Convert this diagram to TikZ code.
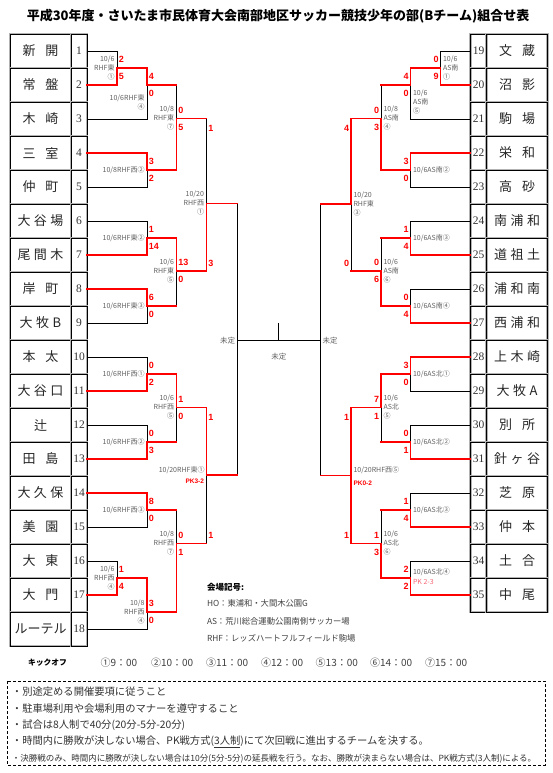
\documentclass[tikz,border=0pt]{standalone}
\usepackage{fontspec}
\usepackage{tikz}
\usetikzlibrary{positioning, calc}

\newfontfamily\jp{Noto Sans CJK JP}
\newfontfamily\numfont{Liberation Serif}
\newfontfamily\scorefont{Liberation Sans}
\newcommand{\two}[2]{#1\hspace{10pt}#2}
\newcommand{\three}[3]{#1\hspace{3.5pt}#2\hspace{3.5pt}#3}
\definecolor{infogray}{gray}{0.38}
\definecolor{pkpink}{RGB}{246,104,118}

\begin{document}
\begin{tikzpicture}[
  x=1pt, y=-1pt,
  every node/.style={inner sep=0pt, outer sep=0pt},
  cell/.style={draw, line width=0.9pt, preaction={draw=black!30, line width=2.4pt}, minimum height=34pt},
  team/.style={cell, minimum width=61pt, font=\jp\fontsize{13}{13}\selectfont, text=black!85},
  num/.style={cell, minimum width=16pt, font=\numfont\fontsize{11.5}{11.5}\selectfont, text=black!80},
  lose/.style={draw=black, line width=0.6pt},
  win/.style={draw=red, line width=1.6pt, line cap=rect},
  score/.style={text=red, font=\scorefont\bfseries\fontsize{9}{9}\selectfont},
  pk/.style={text=red, font=\scorefont\bfseries\fontsize{6.5}{7}\selectfont},
  info/.style={text=infogray, font=\jp\fontsize{7}{9}\selectfont},
  linfo/.style={info, anchor=east, align=right},
  rinfo/.style={info, anchor=west, align=left},
  note/.style={anchor=west, text=black!80, font=\jp\fontsize{10.3}{12}\selectfont},
  venue/.style={anchor=west, text=black!75, font=\jp\fontsize{8.3}{10}\selectfont}
]
\path[use as bounding box, fill=white] (0,0) rectangle (553,773);

% Title
\node[font=\jp\bfseries\fontsize{13}{13}\selectfont] (title) at (278,16)
  {平成30年度・さいたま市民体育大会南部地区サッカー競技少年の部(Bチーム)組合せ表};

% Left table: teams 1-18
\foreach \i/\nm in {1/{\two{新}{開}}, 2/{\two{常}{盤}}, 3/{\two{木}{崎}}, 4/{\two{三}{室}},
  5/{\two{仲}{町}}, 6/{\three{大}{谷}{場}}, 7/{\three{尾}{間}{木}}, 8/{\two{岸}{町}},
  9/{\three{大}{牧}{B}}, 10/{\two{本}{太}}, 11/{\three{大}{谷}{口}}, 12/辻,
  13/{\two{田}{島}}, 14/{\three{大}{久}{保}}, 15/{\two{美}{園}}, 16/{\two{大}{東}},
  17/{\two{大}{門}}, 18/ルーテル} {
  \node[team] (t\i) at (40.5, {51+34*(\i-1)}) {\nm};
  \node[num, right=0pt of t\i] (n\i) {\i};
}
% Right table: teams 19-35
\foreach \i/\nm in {19/{\two{文}{蔵}}, 20/{\two{沼}{影}}, 21/{\two{駒}{場}}, 22/{\two{栄}{和}},
  23/{\two{高}{砂}}, 24/{\three{南}{浦}{和}}, 25/{\three{道}{祖}{土}}, 26/{\three{浦}{和}{南}},
  27/{\three{西}{浦}{和}}, 28/{\three{上}{木}{崎}}, 29/{\three{大}{牧}{A}}, 30/{\two{別}{所}},
  31/{\three{針}{ヶ}{谷}}, 32/{\two{芝}{原}}, 33/{\two{仲}{本}}, 34/{\two{土}{合}},
  35/{\two{中}{尾}}} {
  \node[num] (n\i) at (478.5, {51+34*(\i-19)}) {\i};
  \node[team, right=0pt of n\i] (t\i) {\nm};
}

% Match points, left side
\coordinate (L1) at (117,68);
\coordinate (L2) at (147,85);
\coordinate (L3) at (147,170);
\coordinate (L4) at (176.5,118.5);
\coordinate (L5) at (147,238);
\coordinate (L6) at (147,306);
\coordinate (L7) at (176.5,271);
\coordinate (L8) at (206.5,203.5);
\coordinate (L9) at (147,374);
\coordinate (L10) at (147,442);
\coordinate (L11) at (176.5,407.5);
\coordinate (L12) at (147,510);
\coordinate (L13) at (117,578);
\coordinate (L14) at (147,612);
\coordinate (L15) at (176.5,543.5);
\coordinate (L16) at (206.5,475);
\coordinate (LS) at (237,340.5);
% Match points, right side
\coordinate (R1) at (440.5,68);
\coordinate (R2) at (410.5,85);
\coordinate (R3) at (410.5,170);
\coordinate (R4) at (381,118.5);
\coordinate (R5) at (410.5,238);
\coordinate (R6) at (410.5,306);
\coordinate (R7) at (381,271);
\coordinate (R8) at (351,204);
\coordinate (R9) at (410.5,374);
\coordinate (R10) at (410.5,442);
\coordinate (R11) at (381,407.5);
\coordinate (R12) at (410.5,510);
\coordinate (R13) at (410.5,578);
\coordinate (R14) at (381,543.5);
\coordinate (R15) at (351,475.5);
\coordinate (RS) at (320.5,340.5);
\coordinate (F) at (278.75,323);

% Lost or open paths
\draw[lose] (n1.east) -| (L1);  \draw[lose] (n3.east) -| (L2);
\draw[lose] (n5.east) -| (L3);  \draw[lose] (n6.east) -| (L5);
\draw[lose] (n9.east) -| (L6);  \draw[lose] (n10.east) -| (L9);
\draw[lose] (n12.east) -| (L10); \draw[lose] (n15.east) -| (L12);
\draw[lose] (n16.east) -| (L13); \draw[lose] (n18.east) -| (L14);
\draw[lose] (L2 -| L4) -- (L4);   \draw[lose] (L6 -| L7) -- (L7);
\draw[lose] (L4 -| L8) -- (L8);   \draw[lose] (L10 -| L11) -- (L11);
\draw[lose] (L12 -| L15) -- (L15); \draw[lose] (L15 -| L16) -- (L16);
\draw[lose] (L8 -| LS) -- (LS);   \draw[lose] (L16 -| LS) -- (LS);

\draw[lose] (n19.west) -| (R1);  \draw[lose] (n21.west) -| (R2);
\draw[lose] (n23.west) -| (R3);  \draw[lose] (n24.west) -| (R5);
\draw[lose] (n26.west) -| (R6);  \draw[lose] (n29.west) -| (R9);
\draw[lose] (n30.west) -| (R10); \draw[lose] (n32.west) -| (R12);
\draw[lose] (n34.west) -| (R13);
\draw[lose] (R2 -| R4) -- (R4);   \draw[lose] (R5 -| R7) -- (R7);
\draw[lose] (R7 -| R8) -- (R8);   \draw[lose] (R10 -| R11) -- (R11);
\draw[lose] (R12 -| R14) -- (R14);
\draw[lose] (R8 -| RS) -- (RS);   \draw[lose] (R15 -| RS) -- (RS);

% Final
\draw[lose] (LS) -- (RS);
\draw[lose] (LS -| F) -- (F);

% Winners, left side
\draw[win] (n2.east) -| (L1) -| (L2) -- (L2 -| L4);
\draw[win] (n4.east) -| (L3) -| (L4) -- (L4 -| L8);
\draw[win] (n7.east) -| (L5) -| (L7) -| (L8) -- (L8 -| LS);
\draw[win] (n8.east) -| (L6) -- (L6 -| L7);
\draw[win] (n11.east) -| (L9) -| (L11) -| (L16) -- (L16 -| LS);
\draw[win] (n13.east) -| (L10) -- (L10 -| L11);
\draw[win] (n14.east) -| (L12) -- (L12 -| L15);
\draw[win] (n17.east) -| (L13) -| (L14) -| (L15) -- (L15 -| L16);
% Winners, right side
\draw[win] (n20.west) -| (R1) -| (R2) -- (R2 -| R4);
\draw[win] (n22.west) -| (R3) -| (R4) -| (R8) -- (R8 -| RS);
\draw[win] (n25.west) -| (R5) -- (R5 -| R7);
\draw[win] (n27.west) -| (R6) -| (R7) -- (R7 -| R8);
\draw[win] (n28.west) -| (R9) -| (R11) -| (R15) -- (R15 -| RS);
\draw[win] (n31.west) -| (R10) -- (R10 -| R11);
\draw[win] (n33.west) -| (R12) -- (R12 -| R14);
\draw[win] (n35.west) -| (R13) -| (R14) -| (R15);

% Scores
\foreach \m/\a/\b in {L1/2/5, L2/4/0, L3/3/2, L4/0/5, L5/1/14, L6/6/0, L7/13/0,
  L9/0/2, L10/0/3, L11/1/0, L12/8/0, L13/1/4, L14/3/0, L15/0/1} {
  \node[score, anchor=west] at ($(\m)+(1.8,-8.5)$) {\a};
  \node[score, anchor=west] at ($(\m)+(1.8,8.5)$) {\b};
}
\foreach \m/\a/\b in {R1/0/9, R2/4/0, R3/3/0, R4/0/3, R5/1/4, R6/0/4, R7/0/6,
  R9/3/0, R10/0/1, R11/7/1, R12/1/4, R13/2/2, R14/1/3} {
  \node[score, anchor=east] at ($(\m)+(-1.8,-8.5)$) {\a};
  \node[score, anchor=east] at ($(\m)+(-1.8,8.5)$) {\b};
}
\node[score, anchor=west] at ($(L4 -| L8)+(1.8,10)$) {1};
\node[score, anchor=west] at ($(L7 -| L8)+(1.8,-8)$) {3};
\node[score, anchor=west] at ($(L11 -| L16)+(1.8,9.5)$) {1};
\node[score, anchor=west] at ($(L15 -| L16)+(1.8,-8.5)$) {1};
\node[score, anchor=east] at ($(R4 -| R8)+(-1.8,10)$) {4};
\node[score, anchor=east] at ($(R7 -| R8)+(-1.8,-8)$) {0};
\node[score, anchor=east] at ($(R11 -| R15)+(-1.8,9.5)$) {1};
\node[score, anchor=east] at ($(R14 -| R15)+(-1.8,-8.5)$) {1};

% Match labels, left side
\node[linfo] at ($(L1)+(-2.5,0)$) {10/6\\RHF東\\①};
\node[linfo] at ($(L2)+(-2.5,17)$) {10/6RHF東\\④};
\node[linfo] at ($(L3)+(-2.5,0)$) {10/8RHF西②};
\node[linfo] at ($(L4)+(-2.5,0)$) {10/8\\RHF東\\⑦};
\node[linfo] at ($(L5)+(-2.5,0)$) {10/6RHF東②};
\node[linfo] at ($(L6)+(-2.5,0)$) {10/6RHF東③};
\node[linfo] at ($(L7)+(-2.5,0)$) {10/6\\RHF東\\⑤};
\node[linfo] at ($(L8)+(-2.5,0)$) {10/20\\RHF西\\①};
\node[linfo] at ($(L9)+(-2.5,0)$) {10/6RHF西①};
\node[linfo] at ($(L10)+(-2.5,0)$) {10/6RHF西②};
\node[linfo] at ($(L11)+(-2.5,0)$) {10/6\\RHF西\\⑤};
\node[linfo] at ($(L12)+(-2.5,0)$) {10/6RHF西③};
\node[linfo] at ($(L13)+(-2.5,0)$) {10/6\\RHF西\\④};
\node[linfo] at ($(L14)+(-2.5,0)$) {10/8\\RHF西\\④};
\node[linfo] at ($(L15)+(-2.5,0)$) {10/8\\RHF西\\⑦};
\node[linfo] at ($(L16)+(-2,-5)$) {10/20RHF東①};
\node[pk, anchor=east] at ($(L16)+(-2.5,6)$) {PK3-2};
% Match labels, right side
\node[rinfo] at ($(R1)+(2.5,0)$) {10/6\\AS南\\①};
\node[rinfo] at ($(R2)+(2.5,17)$) {10/6\\AS南\\⑤};
\node[rinfo] at ($(R3)+(2.5,0)$) {10/6AS南②};
\node[rinfo] at ($(R4)+(2.5,0)$) {10/8\\AS南\\④};
\node[rinfo] at ($(R5)+(2.5,0)$) {10/6AS南③};
\node[rinfo] at ($(R6)+(2.5,0)$) {10/6AS南④};
\node[rinfo] at ($(R7)+(2.5,0)$) {10/6\\AS南\\⑥};
\node[rinfo] at ($(R8)+(2.5,0)$) {10/20\\RHF東\\③};
\node[rinfo] at ($(R9)+(2.5,0)$) {10/6AS北①};
\node[rinfo] at ($(R10)+(2.5,0)$) {10/6AS北②};
\node[rinfo] at ($(R11)+(2.5,0)$) {10/6\\AS北\\⑤};
\node[rinfo] at ($(R12)+(2.5,0)$) {10/6AS北③};
\node[rinfo] at ($(R13)+(2.5,-6)$) {10/6AS北④};
\node[info, anchor=west, text=pkpink] at ($(R13)+(2.5,4)$) {PK 2-3};
\node[rinfo] at ($(R14)+(2.5,0)$) {10/6\\AS北\\⑥};
\node[rinfo] at ($(R15)+(2.5,-5)$) {10/20RHF西⑤};
\node[pk, anchor=west] at ($(R15)+(2.5,8)$) {PK0-2};

% Open results
\node[info, font=\jp\fontsize{7.5}{9}\selectfont, anchor=east] (semiL) at ($(LS)+(-2,0)$) {未定};
\node[info, font=\jp\fontsize{7.5}{9}\selectfont, anchor=west] (semiR) at ($(RS)+(2,0)$) {未定};
\node[info, font=\jp\fontsize{7.5}{9}\selectfont] (champ) at ($(LS -| F)+(0,16.5)$) {未定};

% Venues
\node[anchor=west, font=\jp\bfseries\fontsize{8.5}{10}\selectfont] (venues) at (207,587) {会場記号:};
\node[venue] (ho) at (207,603.5) {HO：東浦和・大間木公園G};
\node[venue] (as) at (207,621) {AS：荒川総合運動公園南側サッカー場};
\node[venue] (rhf) at (207,638.5) {RHF：レッズハートフルフィールド駒場};

% Kick-off times
\node[font=\jp\bfseries\fontsize{7.8}{9}\selectfont] (kick) at (47.5,663) {キックオフ};
\foreach \x/\t in {100.5/①9：00, 151/②10：00, 206/③11：00, 261/④12：00,
  315.7/⑤13：00, 370/⑥14：00, 425/⑦15：00}
  \node[anchor=west, text=black!75, font=\jp\fontsize{10}{10}\selectfont] at (\x,663) {\t};

% Notes
\draw[dash pattern=on 3pt off 2pt, line width=0.6pt] (7,681) rectangle (545,765);
\node[note] (note1) at (12,691.5) {・別途定める開催要項に従うこと};
\node[note] (note2) at (12,708.5) {・駐車場利用や会場利用のマナーを遵守すること};
\node[note] (note3) at (12,725.4) {・試合は8人制で40分(20分-5分-20分)};
\node[note] (note4) at (12,742) {・時間内に勝敗が決しない場合、PK戦方式(\underline{3人制})にて次回戦に進出するチームを決する。};
\node[note, font=\jp\fontsize{8.5}{10}\selectfont] (note5) at (12,758.5)
  {・決勝戦のみ、時間内に勝敗が決しない場合は10分(5分-5分)の延長戦を行う。なお、勝敗が決まらない場合は、PK戦方式(3人制)による。};

\end{tikzpicture}
\end{document}
